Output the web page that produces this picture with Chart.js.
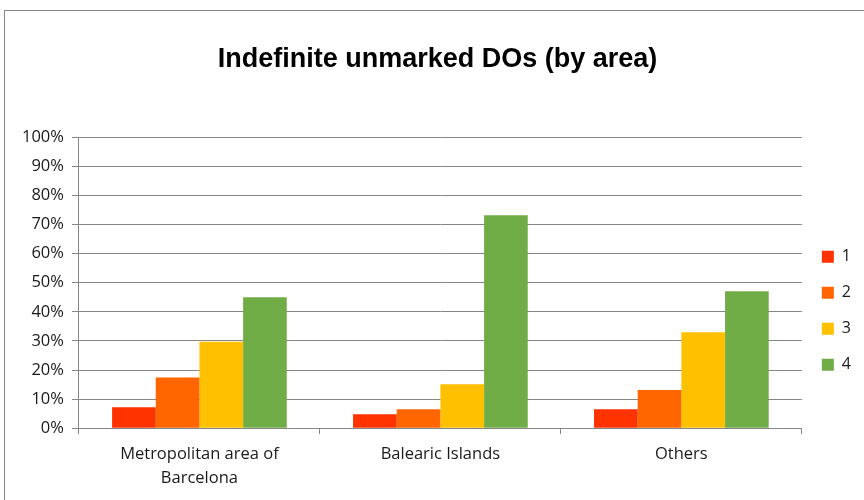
<!DOCTYPE html>
<html>
<head>
<meta charset="utf-8">
<script src="https://cdn.jsdelivr.net/npm/chart.js@4"></script>
<style>
  html, body { margin: 0; padding: 0; background: #fff; }
  #wrap { position: relative; width: 864px; height: 500px; overflow: hidden; }
  #frame { position: absolute; left: 4px; top: 10px; width: 900px; height: 520px; border: 1px solid #868686; }
  canvas { position: absolute; left: 0; top: 0; }
</style>
</head>
<body>
<div id="wrap">
  <div id="frame"></div>
  <canvas id="chart1" width="864" height="500"></canvas>
</div>
<script>
// data
var areas = [["Metropolitan area of", "Barcelona"], "Balearic Islands", "Others"];
var groupNames = ["1", "2", "3", "4"];
var group1 = [7.2, 4.8, 6.5];
var group2 = [17.4, 6.5, 13.1];
var group3 = [29.7, 15.1, 33.0];
var group4 = [45.0, 73.2, 47.1];
var barColors = ["#ff3300", "#ff6600", "#ffc000", "#70ad47"];

var series = [group1, group2, group3, group4];
var datasets = series.map(function (vals, i) {
    return {
        label: groupNames[i],
        data: vals,
        backgroundColor: barColors[i],
        borderWidth: 0,
        categoryPercentage: 0.725,
        barPercentage: 1.0
    };
});

var gridColor = "#868686";

var options = {
    responsive: false,
    animation: false,
    layout: {
        padding: { top: 43, left: 14, right: 3, bottom: 2 }
    },
    plugins: {
        title: {
            display: true,
            text: "Indefinite unmarked DOs (by area)",
            color: "#000",
            font: { family: "Liberation Sans", size: 27, weight: "bold" },
            padding: { top: 0, bottom: 62 }
        },
        legend: {
            position: "right",
            align: "center",
            title: {
                display: true,
                text: " ",
                font: { size: 8 },
                padding: { top: 71, bottom: 0 }
            },
            labels: {
                boxWidth: 12,
                boxHeight: 12,
                padding: 20,
                color: "#1a1a1a",
                font: { family: "Open Sans", size: 16 }
            }
        },
        tooltip: { enabled: false }
    },
    scales: {
        x: {
            grid: {
                display: true,
                offset: true,
                drawOnChartArea: false,
                drawTicks: true,
                tickLength: 6,
                color: gridColor
            },
            border: { display: true, color: gridColor },
            ticks: {
                color: "#1a1a1a",
                maxRotation: 0,
                padding: 8,
                font: { family: "Open Sans", size: 16.5, lineHeight: 1.45 }
            }
        },
        y: {
            min: 0,
            max: 100,
            grid: {
                color: gridColor,
                tickLength: 7
            },
            border: { display: true, color: gridColor },
            ticks: {
                stepSize: 10,
                color: "#1a1a1a",
                padding: 8,
                font: { family: "Open Sans", size: 16.5 },
                callback: function (v) { return v + "%"; }
            }
        }
    }
};

var ctx = document.getElementById("chart1").getContext("2d");
var chart = new Chart(ctx, {
    type: "bar",
    data: { labels: areas, datasets: datasets },
    options: options
});
</script>
</body>
</html>
